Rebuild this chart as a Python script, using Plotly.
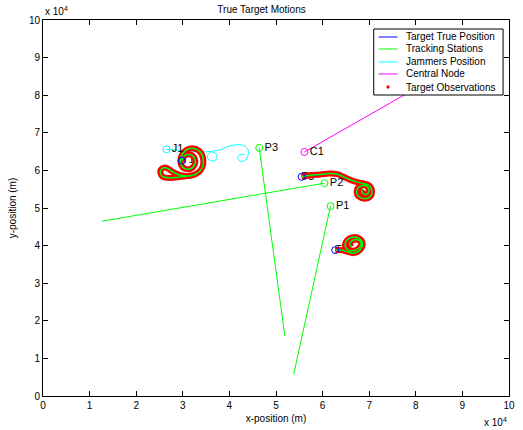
import plotly.graph_objects as go

# All positions are in units of 10^4 m
# Tracking stations: position and the far end of each bearing line
station_names = ["P1", "P2", "P3"]
station_x = [6.17, 6.04, 4.64]
station_y = [5.05, 5.66, 6.60]
bearing_end_x = [5.38, 1.27, 5.19]
bearing_end_y = [0.58, 4.65, 1.60]

# Central node and its link
central_name = "C1"
central_x = [5.61]
central_y = [6.49]
link_end_x = [9.30]
link_end_y = [9.10]

# Jammer track (starts at J1)
jammer_name = "J1"
jammer_x = [2.65, 2.90, 3.15, 3.45, 3.60, 3.72, 3.72, 3.62, 3.53, 3.56, 3.68, 3.82,
            3.95, 4.13, 4.30, 4.40, 4.40, 4.35, 4.25, 4.18, 4.22, 4.32]
jammer_y = [6.56, 6.54, 6.52, 6.49, 6.50, 6.43, 6.30, 6.25, 6.32, 6.45, 6.52, 6.55,
            6.63, 6.68, 6.66, 6.55, 6.40, 6.28, 6.24, 6.32, 6.42, 6.42]

# Target tracks
target_names = ["T1", "T3", "T2"]
t1_x = [2.98, 3.05, 3.20, 3.27, 3.18, 3.02, 2.95, 3.00, 3.15, 3.35, 3.44, 3.38, 3.18,
        2.95, 2.80, 2.62, 2.52, 2.56, 2.72, 2.90, 3.10, 3.30]
t1_y = [6.26, 6.40, 6.40, 6.22, 6.05, 6.06, 6.22, 6.45, 6.58, 6.52, 6.28, 6.00, 5.86,
        5.87, 5.95, 6.08, 6.00, 5.84, 5.80, 5.82, 5.85, 5.90]
t2_x = [5.55, 5.75, 5.95, 6.15, 6.32, 6.50, 6.68, 6.85, 7.00, 7.06, 7.02, 6.88, 6.74,
        6.76, 6.92, 7.00, 6.94, 6.84, 6.86]
t2_y = [5.83, 5.87, 5.89, 5.92, 5.90, 5.80, 5.71, 5.66, 5.60, 5.44, 5.30, 5.25, 5.36,
        5.54, 5.60, 5.47, 5.36, 5.42, 5.50]
t3_x = [6.27, 6.40, 6.52, 6.66, 6.80, 6.86, 6.80, 6.64, 6.50, 6.50, 6.64, 6.80, 6.82,
        6.70, 6.58, 6.62]
t3_y = [3.88, 3.88, 3.84, 3.80, 3.88, 4.04, 4.18, 4.22, 4.10, 3.94, 3.86, 3.96, 4.10,
        4.16, 4.06, 3.96]

tracks = [(t1_x, t1_y), (t2_x, t2_y), (t3_x, t3_y)]

BLUE, GREEN, CYAN, MAGENTA, RED = "#0000FF", "#00FF00", "#00FFFF", "#FF00FF", "#FF0000"
FONT = "Liberation Sans, Arial, Helvetica, sans-serif"

# Legend entries
legend_names = ["Target True Position", "Tracking Stations", "Jammers Position",
                "Central Node", "Target Observations"]
legend_colors = [BLUE, GREEN, CYAN, MAGENTA, RED]

fig = go.Figure()

# Target labels sit under the tracks
fig.add_trace(go.Scatter(
    x=[t[0][0] for t in tracks], y=[t[1][0] for t in tracks], text=target_names,
    mode="text", textposition="middle right", showlegend=False,
    textfont=dict(family=FONT, size=11, color="black"), hoverinfo="skip"))

# Bearing lines from each station
for i in range(len(station_x)):
    fig.add_trace(go.Scatter(
        x=[station_x[i], bearing_end_x[i]], y=[station_y[i], bearing_end_y[i]],
        mode="lines", line=dict(color=GREEN, width=1), showlegend=False))

# Central node link
fig.add_trace(go.Scatter(
    x=[central_x[0], link_end_x[0]], y=[central_y[0], link_end_y[0]],
    mode="lines", line=dict(color=MAGENTA, width=1), showlegend=False))

# Jammer path
fig.add_trace(go.Scatter(
    x=jammer_x, y=jammer_y, mode="lines", line=dict(color=CYAN, width=1, shape="spline"),
    showlegend=False))

# Observations band, true positions and estimated tracks
for tx, ty in tracks:
    fig.add_trace(go.Scatter(x=tx, y=ty, mode="lines",
                             line=dict(color=RED, width=6, shape="spline"),
                             showlegend=False, hoverinfo="skip"))
for tx, ty in tracks:
    fig.add_trace(go.Scatter(x=tx, y=ty, mode="lines",
                             line=dict(color=BLUE, width=1, shape="spline"),
                             showlegend=False))
for tx, ty in tracks:
    fig.add_trace(go.Scatter(x=tx, y=ty, mode="lines",
                             line=dict(color=GREEN, width=1.5, shape="spline"),
                             showlegend=False))

# Start markers with labels
fig.add_trace(go.Scatter(
    x=[t[0][0] for t in tracks], y=[t[1][0] for t in tracks], mode="markers",
    marker=dict(symbol="circle-open", size=7, color=BLUE, line=dict(width=1)),
    showlegend=False))
marker_sets = [
    (station_x, station_y, station_names, GREEN),
    (central_x, central_y, [central_name], MAGENTA),
    (jammer_x[:1], jammer_y[:1], [jammer_name], CYAN),
]
for mx, my, mt, mc in marker_sets:
    fig.add_trace(go.Scatter(
        x=mx, y=my, mode="markers+text", text=mt, textposition="middle right",
        textfont=dict(family=FONT, size=11, color="black"),
        marker=dict(symbol="circle-open", size=7, color=mc, line=dict(width=1)),
        showlegend=False))

# Boxed legend in the upper right corner (paper coordinates)
box_x0, box_x1, box_y0, box_y1 = 0.7097, 0.9873, 0.8005, 0.976
sample_x0, sample_x1, text_x = 0.7203, 0.7606, 0.7754
row_y = [0.9548, 0.9229, 0.8883, 0.8564, 0.8218]

shapes = [dict(type="rect", xref="paper", yref="paper", x0=box_x0, x1=box_x1,
               y0=box_y0, y1=box_y1, fillcolor="white", layer="above",
               line=dict(color="black", width=1))]
annotations = []
for i, (name, color) in enumerate(zip(legend_names, legend_colors)):
    if i < 4:
        shapes.append(dict(type="line", xref="paper", yref="paper", x0=sample_x0,
                           x1=sample_x1, y0=row_y[i], y1=row_y[i], layer="above",
                           line=dict(color=color, width=1)))
    else:
        xm = (sample_x0 + sample_x1) / 2
        shapes.append(dict(type="circle", xref="paper", yref="paper",
                           x0=xm - 0.0035, x1=xm + 0.0035,
                           y0=row_y[i] - 0.0045, y1=row_y[i] + 0.0045,
                           fillcolor=color, layer="above", line=dict(color=color, width=0)))
    annotations.append(dict(text=name, xref="paper", yref="paper", x=text_x, y=row_y[i],
                            xanchor="left", yanchor="middle", showarrow=False,
                            font=dict(family=FONT, size=10, color="black")))

annotations += [
    dict(text="x 10<sup>4</sup>", xref="paper", yref="paper", x=0.0, y=1.0,
         xanchor="left", yanchor="bottom", yshift=1, showarrow=False,
         font=dict(family=FONT, size=10, color="black")),
    dict(text="x 10<sup>4</sup>", xref="paper", yref="paper", x=1.0, y=0.0,
         xanchor="right", yanchor="top", yshift=-18, showarrow=False,
         font=dict(family=FONT, size=10, color="black")),
]

axis_common = dict(
    range=[0, 10], tickvals=list(range(11)), showgrid=False, zeroline=False,
    showline=True, linecolor="black", linewidth=1, mirror="ticks",
    ticks="inside", ticklen=5, tickcolor="black",
    tickfont=dict(family=FONT, size=10, color="black"),
)

fig.update_layout(
    width=523, height=430,
    margin=dict(l=43, r=8, t=20, b=34),
    paper_bgcolor="white", plot_bgcolor="white",
    font=dict(family=FONT, size=10, color="black"),
    title=dict(text="True Target Motions", x=0.5, xanchor="center", y=0.985, yanchor="top",
               font=dict(family=FONT, size=10, color="black")),
    xaxis=dict(**axis_common, title=dict(text="x-position (m)", standoff=4,
                                         font=dict(family=FONT, size=10))),
    yaxis=dict(**axis_common, title=dict(text="y-position (m)", standoff=10,
                                         font=dict(family=FONT, size=10))),
    showlegend=False,
    shapes=shapes,
    annotations=annotations,
)

fig.write_html("out.html")
